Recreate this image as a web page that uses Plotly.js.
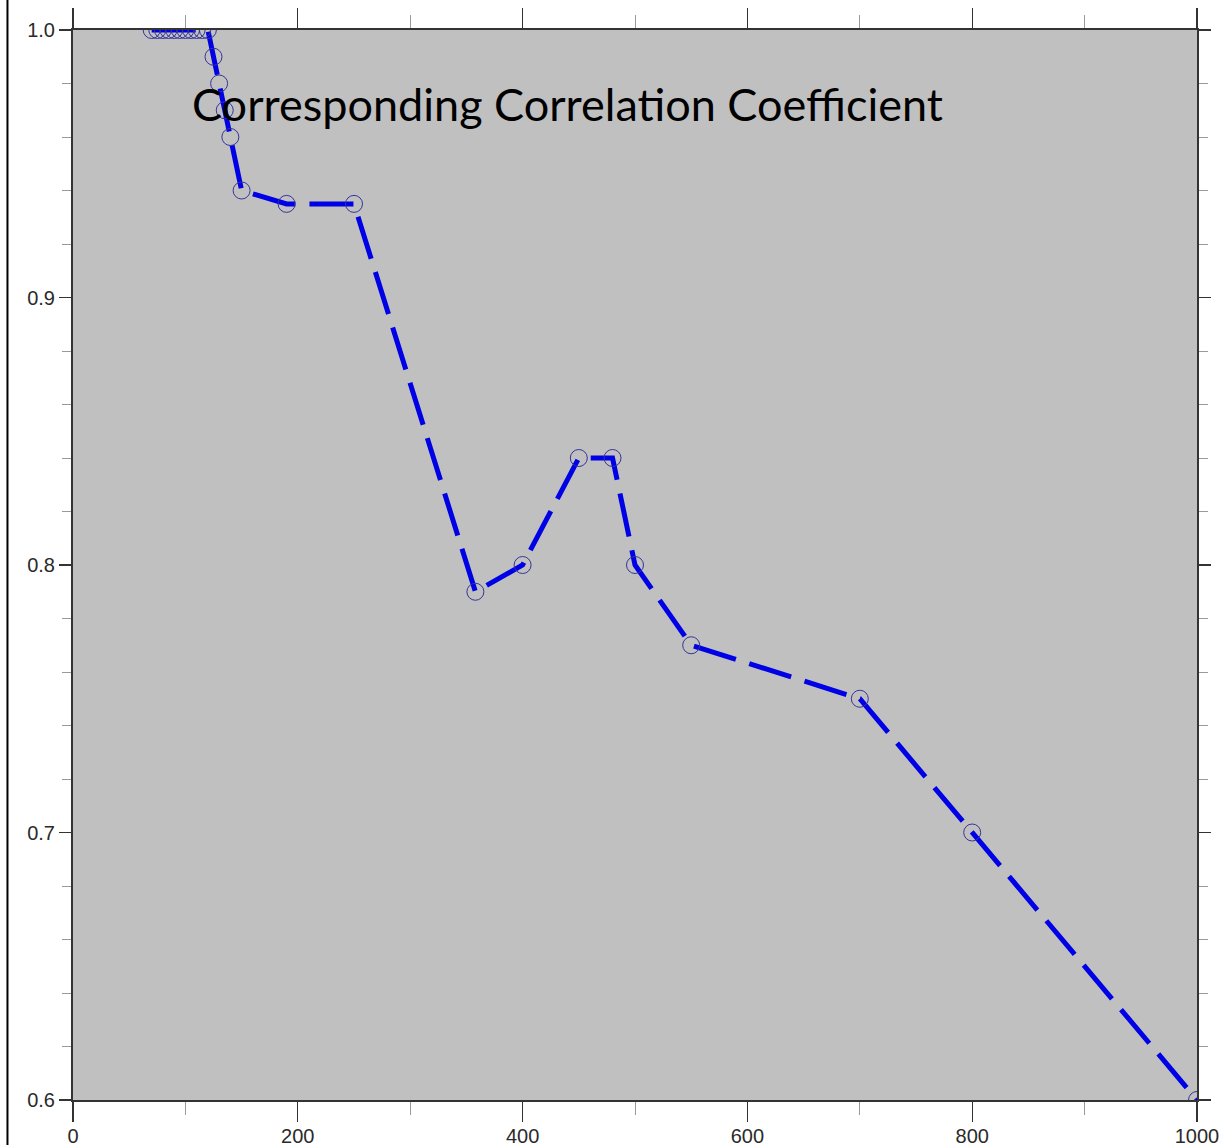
<!DOCTYPE html>
<html>
<head>
<meta charset="utf-8">
<script src="https://cdn.plot.ly/plotly-3.0.1.min.js"></script>
<style>
  html, body { margin: 0; padding: 0; background: #ffffff; }
  #chart { width: 1224px; height: 1145px; }
</style>
</head>
<body>
<div id="chart"></div>
<script>
// Sample size (x) and the corresponding correlation coefficient (y)
const sampleSize = [70, 75, 80, 85, 90, 95, 100, 105, 110, 115, 120,
                    125, 130, 135, 140, 150, 190, 250, 358, 400, 450, 480,
                    500, 550, 700, 800, 1000];
const correlation = [1.0, 1.0, 1.0, 1.0, 1.0, 1.0, 1.0, 1.0, 1.0, 1.0, 1.0,
                     0.99, 0.98, 0.97, 0.96, 0.94, 0.935, 0.935, 0.79, 0.80, 0.84, 0.84,
                     0.80, 0.77, 0.75, 0.70, 0.60];

const xTickVals = [0, 200, 400, 600, 800, 1000];
const yTickVals = [0.6, 0.7, 0.8, 0.9, 1.0];
const yTickText = ['0.6', '0.7', '0.8', '0.9', '1.0'];
const chartTitle = 'Corresponding Correlation Coefficient';

const tickFont = { family: '"Liberation Sans Narrow", "Arial Narrow", "Liberation Sans", sans-serif', size: 20, color: '#2a2a2a' };

const trace = {
  x: sampleSize,
  y: correlation,
  type: 'scatter',
  mode: 'lines+markers',
  line: { color: '#0000e6', width: 5, dash: '44px,14px' },
  marker: {
    symbol: 'circle-open',
    size: 17,
    color: '#34349a',
    line: { width: 1, color: '#34349a' }
  },
  cliponaxis: true,
  hoverinfo: 'x+y'
};

const layout = {
  width: 1224,
  height: 1145,
  margin: { l: 72.5, r: 27.3, t: 30, b: 45.3, pad: 0 },
  paper_bgcolor: '#ffffff',
  plot_bgcolor: '#c0c0c0',
  showlegend: false,
  xaxis: {
    range: [0, 1000],
    tickvals: xTickVals,
    ticks: 'outside',
    ticklen: 20,
    tickwidth: 1.2,
    tickcolor: '#333333',
    showline: true,
    linecolor: '#333333',
    linewidth: 2,
    mirror: 'allticks',
    showgrid: false,
    zeroline: false,
    tickfont: tickFont,
    ticklabelstandoff: -3,
    minor: { dtick: 100, tick0: 0, ticks: 'outside', ticklen: 13, tickcolor: '#9a9a9a', tickwidth: 1, showgrid: false }
  },
  yaxis: {
    range: [0.6, 1.0],
    tickvals: yTickVals,
    ticktext: yTickText,
    ticks: 'outside',
    ticklen: 12,
    tickwidth: 1.2,
    tickcolor: '#333333',
    showline: true,
    linecolor: '#333333',
    linewidth: 2,
    mirror: 'allticks',
    showgrid: false,
    zeroline: false,
    tickfont: tickFont,
    ticklabelstandoff: 0,
    minor: { dtick: 0.02, tick0: 0.6, ticks: 'outside', ticklen: 9, tickcolor: '#9a9a9a', tickwidth: 1, showgrid: false }
  },
  annotations: [{
    text: chartTitle,
    xref: 'paper', yref: 'paper',
    x: 0.104, y: 0.9313,
    xanchor: 'left', yanchor: 'middle',
    showarrow: false,
    font: { family: 'Lato, "Open Sans", sans-serif', size: 45, color: '#000000' }
  }],
  shapes: [{
    type: 'line',
    xref: 'paper', yref: 'paper',
    x0: -0.0583, x1: -0.0583, y0: -0.06, y1: 1.06,
    line: { color: '#000000', width: 2 }
  }]
};

Plotly.newPlot('chart', [trace], layout, { displayModeBar: false, staticPlot: true });
</script>
</body>
</html>
